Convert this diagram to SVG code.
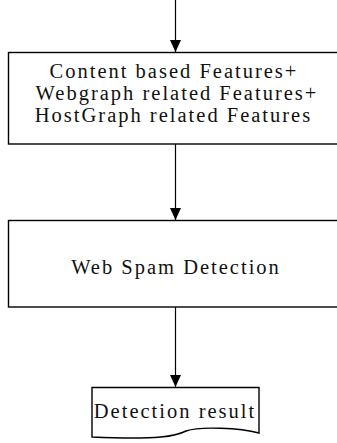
<svg xmlns="http://www.w3.org/2000/svg" width="337" height="443" viewBox="0 0 337 443">
<style>
.box{fill:#fff;stroke:#000;stroke-width:1.4}
.ln{stroke:#000;stroke-width:1.2;fill:none}
text{font-family:"Liberation Serif","Times New Roman",serif;font-size:20.5px;fill:#111;text-anchor:middle;letter-spacing:2px}
</style>
<defs>
<marker id="ah" markerUnits="userSpaceOnUse" markerWidth="12" markerHeight="13" viewBox="0 0 12 13" refX="12" refY="6" orient="auto">
<path d="M0,0.5 L12,6 L0,11.5 Z" fill="#000"/>
</marker>
</defs>
<g id="connectors">
<line class="ln" x1="175.5" y1="0" x2="175.5" y2="52" marker-end="url(#ah)"/>
<line class="ln" x1="175.5" y1="144" x2="175.5" y2="220" marker-end="url(#ah)"/>
<line class="ln" x1="175.5" y1="307" x2="175.5" y2="387" marker-end="url(#ah)"/>
</g>
<g id="features">
<rect class="box" x="8.5" y="52.5" width="340" height="91.5"/>
<text x="174" y="78">Content based Features+</text>
<text x="177" y="100">Webgraph related Features+</text>
<text x="173.5" y="122">HostGraph related Features</text>
</g>
<g id="detection">
<rect class="box" x="8.5" y="220.5" width="340" height="86.5"/>
<text x="176" y="274">Web Spam Detection</text>
</g>
<g id="result">
<path class="box" d="M92,387.5 L259,387.5 L259,433 C240,428 200,426 186,431 C176,436 160,440 92,437 Z"/>
<text x="175" y="418">Detection result</text>
</g>
</svg>
